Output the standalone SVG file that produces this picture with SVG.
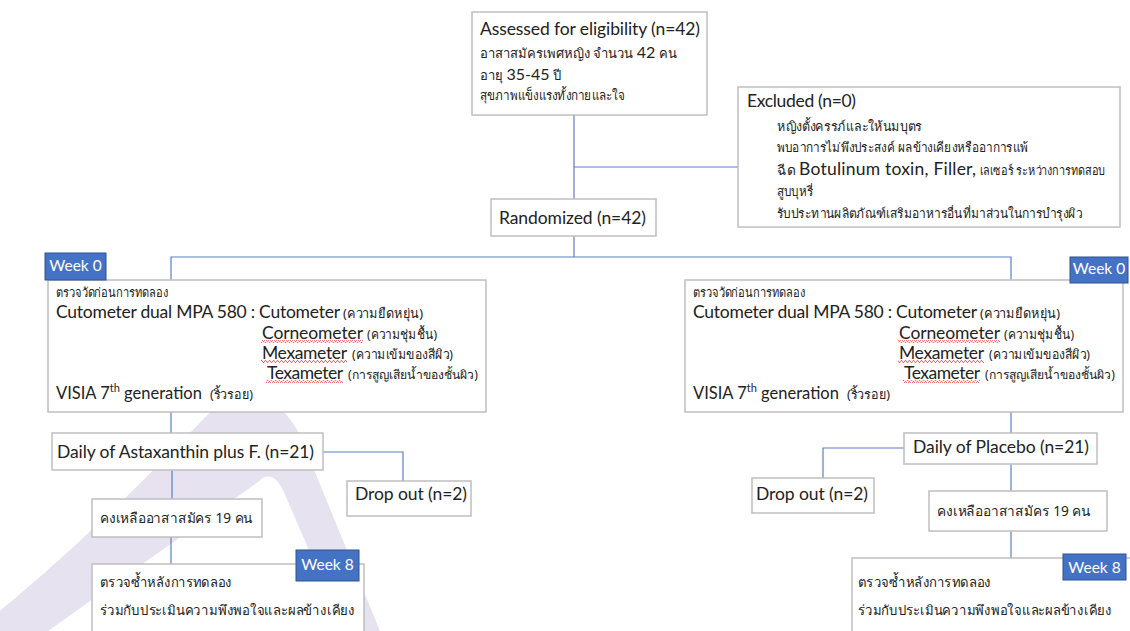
<svg xmlns="http://www.w3.org/2000/svg" width="1130" height="631" viewBox="0 0 1130 631">
  <style>
    .box { fill: #ffffff; stroke: #bfbfbf; stroke-width: 1.5; }
    .tag { fill: #4472c4; stroke: #2f528f; stroke-width: 1; }
    .tag-text { font-family: Lato, "Liberation Sans", sans-serif; font-size: 15.5px; fill: #ffffff; }
    .en { font-family: Lato, "Liberation Sans", sans-serif; font-size: 17.5px; fill: #222222; }
    .en-s { font-family: Lato, "Liberation Sans", sans-serif; font-size: 16.5px; fill: #222222; }
    .num { font-family: Lato, "Liberation Sans", sans-serif; font-size: 16px; fill: #222222; }
    .sup { font-family: Lato, "Liberation Sans", sans-serif; font-size: 11px; fill: #222222; }
    .th { font-family: "Noto Sans", sans-serif; font-size: 13px; fill: #222222; }
    .th-sm { font-family: "Noto Sans", sans-serif; font-size: 12px; fill: #222222; }
    .th-lg { font-family: "Noto Sans", sans-serif; font-size: 14px; fill: #222222; }
    .th-md { font-family: "Noto Sans", sans-serif; font-size: 13.5px; fill: #222222; }
    .link { fill: none; stroke: #5b7fc9; stroke-width: 1.2; }
    .wm { fill: #e6e2f0; }
  </style>
  <defs>
    <pattern id="squiggle" width="4" height="3" patternUnits="userSpaceOnUse">
      <path d="M0,2.5 L1,0.5 L2,0.5 L3,2.5 L4,2.5" fill="none" stroke="#e04040" stroke-width="0.7"/>
    </pattern>
  </defs>

  <rect width="1130" height="631" fill="#ffffff"/>

  <!-- faint background emblem -->
  <path class="wm" fill-rule="evenodd" d="M-5,631 L-5,615 C80,545 150,475 214,408 C245,382 288,396 306,450 L380,631 Z M48,631 L258,482 Q272,468 283,490 L344,631 Z"/>

  <!-- connectors -->
  <g id="connectors">
    <path class="link" d="M574,115 V199"/>
    <path class="link" d="M574,167 H738"/>
    <path class="link" d="M574,236 V257"/>
    <path class="link" d="M171,280 V257 H1011 V280"/>
    <path class="link" d="M171,412 V433"/>
    <path class="link" d="M323,452 H403 V481"/>
    <path class="link" d="M172,470 V499"/>
    <path class="link" d="M171,537 V564"/>
    <path class="link" d="M1011,412 V433"/>
    <path class="link" d="M904,448 H823 V478"/>
    <path class="link" d="M1011,464 V491"/>
    <path class="link" d="M1011,531 V558"/>
  </g>

  <g id="assessed">
    <rect class="box" x="472" y="12" width="235" height="103"/>
    <text class="en" x="480" y="35" textLength="220">Assessed for eligibility (n=42)</text>
    <text x="480" y="58"><tspan class="th">อาสาสมัครเพศหญิง จำนวน </tspan><tspan class="num">42</tspan><tspan class="th"> คน</tspan></text>
    <text x="480" y="80"><tspan class="th">อายุ </tspan><tspan class="num">35-45</tspan><tspan class="th"> ปี</tspan></text>
    <text class="th" x="480" y="100" textLength="145" lengthAdjust="spacingAndGlyphs">สุขภาพแข็งแรงทั้งกายและใจ</text>
  </g>

  <g id="excluded">
    <rect class="box" x="738" y="87" width="382" height="140"/>
    <text class="en" x="747" y="107" textLength="109">Excluded (n=0)</text>
    <text class="th" x="777" y="131" textLength="145" lengthAdjust="spacingAndGlyphs">หญิงตั้งครรภ์และให้นมบุตร</text>
    <text class="th" x="777" y="152" textLength="251" lengthAdjust="spacingAndGlyphs">พบอาการไม่พึงประสงค์ ผลข้างเคียงหรืออาการแพ้</text>
    <text class="th" x="777" y="175" textLength="18" lengthAdjust="spacingAndGlyphs">ฉีด</text>
    <text class="en" x="799" y="175" textLength="177">Botulinum toxin, Filler,</text>
    <text class="th" x="980" y="175" textLength="125" lengthAdjust="spacingAndGlyphs">เลเซอร์ ระหว่างการทดสอบ</text>
    <text class="th" x="777" y="196" textLength="36" lengthAdjust="spacingAndGlyphs">สูบบุหรี่</text>
    <text class="th" x="777" y="218" textLength="305" lengthAdjust="spacingAndGlyphs">รับประทานผลิตภัณฑ์เสริมอาหารอื่นที่มาส่วนในการบำรุงผิว</text>
  </g>

  <g id="randomized">
    <rect class="box" x="491" y="199" width="165" height="37"/>
    <text class="en" x="499" y="224" textLength="147">Randomized (n=42)</text>
  </g>

  <g id="baseline-left">
    <rect class="box" x="48" y="280" width="438" height="132"/>
    <text class="th" x="56" y="297" textLength="112" lengthAdjust="spacingAndGlyphs">ตรวจวัดก่อนการทดลอง</text>
    <text class="en" x="56" y="318" textLength="284">Cutometer dual MPA 580 : Cutometer</text>
    <text class="th" x="343" y="318" textLength="80" lengthAdjust="spacingAndGlyphs">(ความยืดหยุ่น)</text>
    <text class="en" x="262" y="339" textLength="101">Corneometer</text>
    <text class="th" x="367" y="339" textLength="70" lengthAdjust="spacingAndGlyphs">(ความชุ่มชื้น)</text>
    <text class="en" x="262" y="359" textLength="85">Mexameter</text>
    <text class="th" x="352" y="359" textLength="101" lengthAdjust="spacingAndGlyphs">(ความเข้มของสีผิว)</text>
    <text class="en" x="267" y="379" textLength="76">Texameter</text>
    <text class="th-sm" x="348" y="379" textLength="130" lengthAdjust="spacingAndGlyphs">(การสูญเสียน้ำของชั้นผิว)</text>
    <text class="en-s" x="56" y="399">VISIA 7<tspan class="sup" dy="-7">th</tspan><tspan dy="7"> generation</tspan></text>
    <text class="th" x="210" y="399" textLength="43" lengthAdjust="spacingAndGlyphs">(ริ้วรอย)</text>
    <rect x="261" y="340" width="102" height="3" fill="url(#squiggle)"/>
    <rect x="261" y="360" width="86" height="3" fill="url(#squiggle)"/>
    <rect x="266" y="380" width="77" height="3" fill="url(#squiggle)"/>
  </g>
  <g id="week0-left">
    <rect class="tag" x="45" y="253" width="61" height="27"/>
    <text class="tag-text" x="75.5" y="270.5" text-anchor="middle">Week 0</text>
  </g>

  <g id="baseline-right">
    <rect class="box" x="685" y="280" width="438" height="132"/>
    <text class="th" x="693" y="297" textLength="112" lengthAdjust="spacingAndGlyphs">ตรวจวัดก่อนการทดลอง</text>
    <text class="en" x="693" y="318" textLength="284">Cutometer dual MPA 580 : Cutometer</text>
    <text class="th" x="980" y="318" textLength="80" lengthAdjust="spacingAndGlyphs">(ความยืดหยุ่น)</text>
    <text class="en" x="899" y="339" textLength="101">Corneometer</text>
    <text class="th" x="1004" y="339" textLength="70" lengthAdjust="spacingAndGlyphs">(ความชุ่มชื้น)</text>
    <text class="en" x="899" y="359" textLength="85">Mexameter</text>
    <text class="th" x="989" y="359" textLength="101" lengthAdjust="spacingAndGlyphs">(ความเข้มของสีผิว)</text>
    <text class="en" x="904" y="379" textLength="76">Texameter</text>
    <text class="th-sm" x="985" y="379" textLength="130" lengthAdjust="spacingAndGlyphs">(การสูญเสียน้ำของชั้นผิว)</text>
    <text class="en-s" x="693" y="399">VISIA 7<tspan class="sup" dy="-7">th</tspan><tspan dy="7"> generation</tspan></text>
    <text class="th" x="847" y="399" textLength="43" lengthAdjust="spacingAndGlyphs">(ริ้วรอย)</text>
    <rect x="898" y="340" width="102" height="3" fill="url(#squiggle)"/>
    <rect x="898" y="360" width="86" height="3" fill="url(#squiggle)"/>
    <rect x="903" y="380" width="77" height="3" fill="url(#squiggle)"/>
  </g>
  <g id="week0-right">
    <rect class="tag" x="1070" y="257" width="58" height="26"/>
    <text class="tag-text" x="1099" y="274" text-anchor="middle">Week 0</text>
  </g>

  <g id="astaxanthin">
    <rect class="box" x="52" y="433" width="271" height="37"/>
    <text class="en" x="57" y="458" textLength="257">Daily of Astaxanthin plus F. (n=21)</text>
  </g>
  <g id="dropout-left">
    <rect class="box" x="347" y="481" width="124" height="35"/>
    <text class="en" x="355" y="500" textLength="112">Drop out (n=2)</text>
  </g>
  <g id="remaining-left">
    <rect class="box" x="92" y="499" width="170" height="38"/>
    <text class="th-lg" x="100" y="523" textLength="153" lengthAdjust="spacingAndGlyphs">คงเหลืออาสาสมัคร 19 คน</text>
  </g>
  <g id="followup-left">
    <rect class="box" x="92" y="564" width="272" height="80"/>
    <text class="th-lg" x="100" y="587" textLength="132" lengthAdjust="spacingAndGlyphs">ตรวจซ้ำหลังการทดลอง</text>
    <text class="th-md" x="100" y="615" textLength="255" lengthAdjust="spacingAndGlyphs">ร่วมกับประเมินความพึงพอใจและผลข้างเคียง</text>
  </g>
  <g id="week8-left">
    <rect class="tag" x="296" y="550" width="63" height="31"/>
    <text class="tag-text" x="327.5" y="569.5" text-anchor="middle">Week 8</text>
  </g>

  <g id="placebo">
    <rect class="box" x="904" y="433" width="193" height="31"/>
    <text class="en" x="913" y="453" textLength="176">Daily of Placebo (n=21)</text>
  </g>
  <g id="dropout-right">
    <rect class="box" x="752" y="478" width="122" height="35"/>
    <text class="en" x="756" y="500" textLength="112">Drop out (n=2)</text>
  </g>
  <g id="remaining-right">
    <rect class="box" x="929" y="491" width="178" height="40"/>
    <text class="th-lg" x="937" y="516" textLength="154" lengthAdjust="spacingAndGlyphs">คงเหลืออาสาสมัคร 19 คน</text>
  </g>
  <g id="followup-right">
    <rect class="box" x="852" y="558" width="290" height="80"/>
    <text class="th-lg" x="858" y="587" textLength="133" lengthAdjust="spacingAndGlyphs">ตรวจซ้ำหลังการทดลอง</text>
    <text class="th-md" x="858" y="615" textLength="254" lengthAdjust="spacingAndGlyphs">ร่วมกับประเมินความพึงพอใจและผลข้างเคียง</text>
  </g>
  <g id="week8-right">
    <rect class="tag" x="1063" y="554" width="63" height="26"/>
    <text class="tag-text" x="1094.5" y="572.5" text-anchor="middle">Week 8</text>
  </g>
</svg>
